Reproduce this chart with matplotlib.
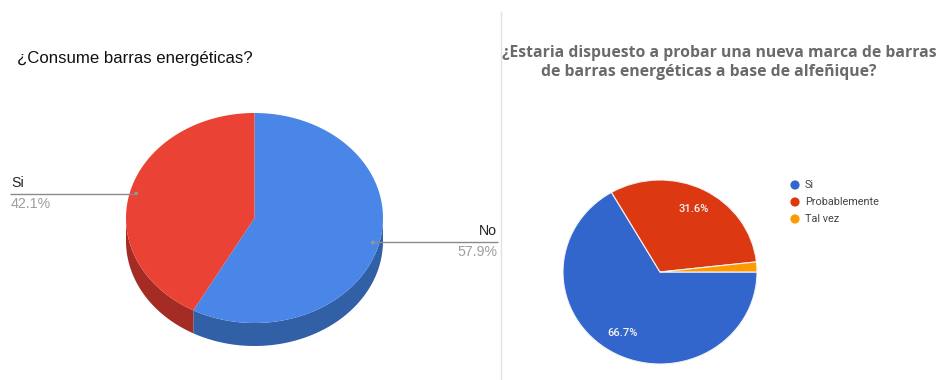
import numpy as np
import matplotlib
matplotlib.use("Agg")
import matplotlib.pyplot as plt
from matplotlib.patches import Polygon, Circle

# ¿Consume barras energéticas?  (response counts)
q1_labels = ["No", "Si"]
q1_counts = [33, 24]
q1_top_colors = ["#4a86e8", "#ea4335"]
q1_side_colors = ["#3260a6", "#a52c24"]

# ¿Estaria dispuesto a probar ...?  (response counts)
q2_labels = ["Si", "Probablemente", "Tal vez"]
q2_counts = [38, 18, 1]
q2_colors = ["#3366cc", "#dc3912", "#ff9900"]

title_left = "¿Consume barras energéticas?"
title_right = ["¿Estaria dispuesto a probar una nueva marca de barras",
               "de barras energéticas a base de alfeñique?"]

W, H = 939, 380
fig = plt.figure(figsize=(W / 100, H / 100), dpi=100)
ax = fig.add_axes([0, 0, 1, 1])
ax.set_xlim(0, W)
ax.set_ylim(H, 0)
ax.axis("off")

# ---------------- left: 3D pie ----------------
cx, cy, rx, ry, depth = 254.5, 218.0, 128.5, 105.0, 23.0
fr = np.array(q1_counts, dtype=float) / sum(q1_counts)
bounds = np.concatenate([[0.0], np.cumsum(fr) * 360.0])


def ell(t, r=1.0):
    t = np.radians(t)
    return cx + r * rx * np.sin(t), cy - r * ry * np.cos(t)


# visible side walls (front half of the ellipse)
for i in range(len(fr)):
    lo, hi = max(bounds[i], 90.0), min(bounds[i + 1], 270.0)
    if hi > lo:
        ts = np.linspace(lo, hi, 200)
        x, y = ell(ts)
        poly = np.column_stack([np.concatenate([x, x[::-1]]),
                                np.concatenate([y, y[::-1] + depth])])
        ax.add_patch(Polygon(poly, closed=True, fc=q1_side_colors[i], ec="none"))

# top faces
for i in range(len(fr)):
    ts = np.linspace(bounds[i], bounds[i + 1], 300)
    x, y = ell(ts)
    poly = np.column_stack([np.concatenate([[cx], x]), np.concatenate([[cy], y])])
    ax.add_patch(Polygon(poly, closed=True, fc=q1_top_colors[i], ec="none"))

# leader lines and labels
for i, lab in enumerate(q1_labels):
    mid = (bounds[i] + bounds[i + 1]) / 2
    dx, dy = ell(mid, 0.95)
    pct = f"{100 * fr[i]:.1f}%"
    if dx > cx:
        x_end, ha, tx = 498, "right", 497
    else:
        x_end, ha, tx = 10, "left", 11
    ax.plot([dx, x_end], [dy, dy], color="#8a8a8a", lw=1.0, solid_capstyle="butt")
    ax.add_patch(Circle((dx, dy), 1.8, fc="#9a9a9a", ec="none"))
    ax.text(tx, dy - 4, lab, ha=ha, va="bottom", fontsize=10.2,
            family="Liberation Sans", color="#222222")
    ax.text(tx, dy + 3, pct, ha=ha, va="top", fontsize=10.2,
            family="Liberation Sans", color="#9e9e9e")

ax.text(17, 63, title_left, ha="left", va="baseline", fontsize=12.1,
        family="Liberation Sans", color="#111111")

# divider
ax.plot([500.5, 500.5], [12, 380], color="#e2e2e2", lw=1.0)

# ---------------- right: flat pie ----------------
px0, px1, py0, py1 = 563, 757, 180, 364
ax2 = fig.add_axes([px0 / W, 1 - py1 / H, (px1 - px0) / W, (py1 - py0) / H])
wedges, _, autotexts = ax2.pie(
    q2_counts, colors=q2_colors, startangle=0, counterclock=False,
    wedgeprops=dict(edgecolor="#f4f4f4", linewidth=0.8),
    autopct=lambda p: f"{p:.1f}%" if p > 5 else "",
    pctdistance=0.77,
    textprops=dict(color="#f4f4f4", fontsize=8, fontweight="medium", family="Roboto"),
)
ax2.set_aspect("auto")
ax2.set_xlim(-1, 1)
ax2.set_ylim(-1, 1)
ax2.axis("off")

ax.text(719, 57, title_right[0], ha="center", va="baseline", fontsize=11.3,
        family="Open Sans", fontweight="bold", color="#6a6a6a")
ax.text(709, 75.5, title_right[1], ha="center", va="baseline", fontsize=11.3,
        family="Open Sans", fontweight="bold", color="#6a6a6a")

# legend
for i, lab in enumerate(q2_labels):
    ly = 185 + 17 * i
    ax.add_patch(Circle((795, ly), 4.6, fc=q2_colors[i], ec="none"))
    ax.text(805, ly, lab, ha="left", va="center", fontsize=7.8,
            family="Roboto", color="#444444")

fig.savefig("out.png", dpi=100)
